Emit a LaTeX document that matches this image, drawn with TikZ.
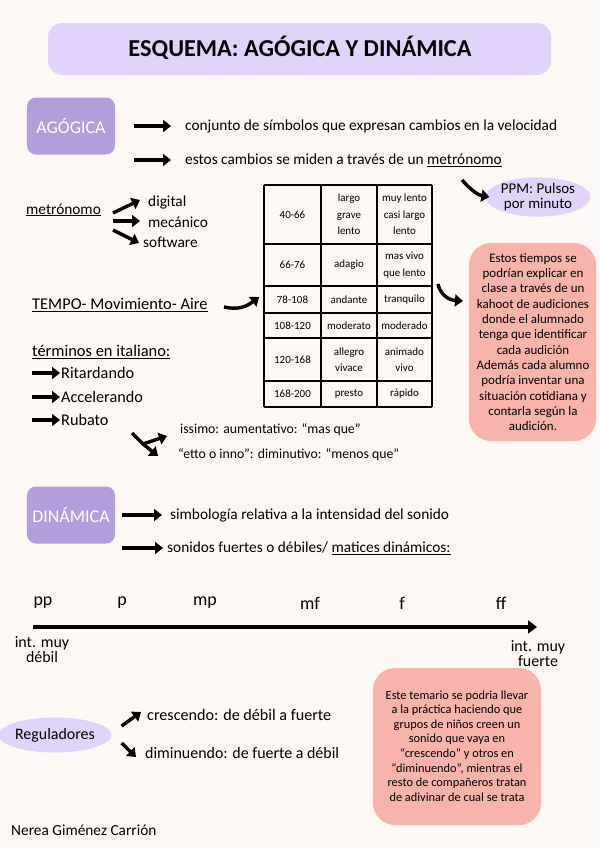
\documentclass[tikz,border=0pt]{standalone}
\usepackage{fontspec}
\setmainfont{Carlito}
\usetikzlibrary{arrows.meta,shapes.geometric}
\definecolor{paper}{HTML}{FDF8F4}
\definecolor{lilac}{HTML}{E2D3FA}
\definecolor{violet}{HTML}{B39DDB}
\definecolor{salmon}{HTML}{F8B4AB}
\begin{document}
\begin{tikzpicture}[x=1bp,y=-1bp,
  txt/.style={anchor=west,inner sep=0pt,font=\fontsize{15.4}{17}\selectfont},
  bigarrow/.style={line width=3.4bp,-{Triangle[length=8bp,width=12bp]}},
  headbox/.style={fill=violet,rounded corners=9bp,minimum width=88bp,minimum height=57bp,
    text=white,font=\fontsize{18}{20}\selectfont},
  bubble/.style={ellipse,fill=lilac,inner sep=0pt,align=center},
  cell/.style={font=\fontsize{11}{16.5}\selectfont,align=center,inner sep=0pt},
  notetxt/.style={align=center,inner sep=0pt}]
\fill[paper] (0,0) rectangle (600,848);
\useasboundingbox (0,0) rectangle (600,848);
% title
\fill[lilac,rounded corners=14bp] (48,23) rectangle (551,75);
\node (title) at (300,48) {\fontsize{24.4}{28}\selectfont\bfseries ESQUEMA: AGÓGICA Y DINÁMICA};
% agogica
\node[headbox] (agogica) at (71,126) {AGÓGICA};
\node[txt] (agodef) at (185,126) {conjunto de símbolos que expresan cambios en la velocidad};
\node[txt] (agomet) at (185,160) {estos cambios se miden a través de un \underline{metrónomo}};
\coordinate (ag1) at (134,126);
\coordinate (ag2) at (134,160);
\draw[bigarrow] (ag1) -- ([xshift=-14bp]agodef.west);
\draw[bigarrow] (ag2) -- ([xshift=-14bp]agomet.west);
% ppm
\node[bubble,minimum width=100bp,minimum height=33bp,font=\fontsize{15}{15}\selectfont] (ppm) at (538,197) {PPM: Pulsos\\por minuto};
\coordinate (ppmtail) at (462,180);
\draw[bigarrow] (ppmtail) .. controls (472,191) and (478,195) .. ([xshift=4bp]ppm.west);
% metronomo
\node[txt] (metro) at (26,210) {\underline{metrónomo}};
\node[txt] (digital) at (148,202) {digital};
\node[txt] (mecanico) at (148,222) {mecánico};
\node[txt] (software) at (143,242) {software};
\coordinate (m1) at (113,213);
\coordinate (m2) at (113,221);
\coordinate (m3) at (113,230);
\draw[bigarrow] (m1) -- (140,200);
\draw[bigarrow] (m2) -- (140,221);
\draw[bigarrow] (m3) -- (139,243);
% table
\foreach \x in {264,321,377,432}
  \draw[line width=1.3bp] (\x,185) -- (\x,407);
\foreach \y in {185,244,286,313,338,381,407}
  \draw[line width=1.3bp] (264,\y) -- (432,\y);
\foreach \y/\a/\b/\c [count=\n] in {
  214.5/40-66/{largo\\grave\\lento}/{muy lento\\casi largo\\lento},
  265/66-76/adagio/{mas vivo\\que lento},
  299.5/78-108/andante/tranquilo,
  325.5/108-120/moderato/moderado,
  359.5/120-168/{allegro\\vivace}/{animado\\vivo},
  394/168-200/presto/rápido}{
  \node[cell] (bpm\n) at (292.5,\y) {\a};
  \node[cell] (ita\n) at (349,\y) {\b};
  \node[cell] (esp\n) at (404.5,\y) {\c};
}
% tempo
\node[txt,font=\fontsize{16.5}{18}\selectfont] (tempo) at (32,305) {\underline{TEMPO- Movimiento- Aire}};
\coordinate (tp) at (224,307);
\draw[bigarrow] (tp) .. controls (238,310) and (246,307) .. (259,297);
% note 1
\fill[salmon,rounded corners=22bp] (469,243) rectangle (596,441);
\node[notetxt,font=\fontsize{13}{15.4}\selectfont] (note1) at (533,342) {Estos tiempos se\\podrían explicar en\\clase a través de un\\kahoot de audiciones\\donde el alumnado\\tenga que identificar\\cada audición\\Además cada alumno\\podría inventar una\\situación cotidiana y\\contarla según la\\audición.};
\coordinate (tb) at (438,284);
\draw[bigarrow] (tb) .. controls (440,294) and (448,300) .. (463,301);
% italiano
\node[txt,font=\fontsize{16.5}{18}\selectfont] (terminos) at (32,352) {\underline{términos en italiano:}};
\node[txt,font=\fontsize{16.3}{18}\selectfont] (rit) at (61,373) {Ritardando};
\node[txt,font=\fontsize{16.3}{18}\selectfont] (acc) at (61,397) {Accelerando};
\node[txt,font=\fontsize{16.3}{18}\selectfont] (rub) at (61,420) {Rubato};
\foreach \t in {rit,acc,rub}
  \draw[bigarrow] ([xshift=-29bp]\t.west) -- ([xshift=-1bp]\t.west);
\node[txt,font=\fontsize{13.8}{15}\selectfont] (issimo) at (180,430) {issimo: aumentativo: “mas que”};
\node[txt,font=\fontsize{13.8}{15}\selectfont] (etto) at (178,455) {“etto o inno”: diminutivo: “menos que”};
\coordinate (fork) at (132,433);
\coordinate (split) at (143,444);
\draw[bigarrow] (fork) -- (split) -- ([xshift=-13bp,yshift=-6bp]issimo.west);
\draw[bigarrow] (split) -- ([xshift=-20bp,yshift=-1bp]etto.west);
% dinamica
\node[headbox] (dinamica) at (71,515) {DINÁMICA};
\node[txt] (dindef) at (170,515) {simbología relativa a la intensidad del sonido};
\node[txt] (dinmat) at (167,548) {sonidos fuertes o débiles/ \underline{matices dinámicos:}};
\coordinate (d1) at (122,515);
\coordinate (d2) at (122,548);
\draw[bigarrow] (d1) -- ([xshift=-8bp]dindef.west);
\draw[bigarrow] (d2) -- ([xshift=-4bp]dinmat.west);
% axis
\coordinate (axstart) at (33,627);
\coordinate (axend) at (537,627);
\draw[line width=4bp,-{Triangle[length=9bp,width=13bp]}] (axstart) -- (axend);
\foreach \m/\x in {pp/43,p/122,mp/205,mf/310,f/402,ff/501}
  \node[font=\fontsize{18}{18}\selectfont,inner sep=0pt] (dyn\m) at (\x,603) {\m};
\node[align=center,inner sep=0pt,font=\fontsize{16}{15}\selectfont] (weak) at (42,650) {int. muy\\débil};
\node[align=center,inner sep=0pt,font=\fontsize{16}{15}\selectfont] (strong) at (538,654) {int. muy\\fuerte};
% note 2
\fill[salmon,rounded corners=22bp] (373,668) rectangle (541,825);
\node[notetxt,font=\fontsize{12.4}{14.6}\selectfont] (note2) at (457,746) {Este temario se podria llevar\\a la práctica haciendo que\\grupos de niños creen un\\sonido que vaya en\\“crescendo” y otros en\\“diminuendo”, mientras el\\resto de compañeros tratan\\de adivinar de cual se trata};
% reguladores
\node[bubble,minimum width=97bp,minimum height=35bp,font=\fontsize{16}{17}\selectfont] (regul) at (55,735) {Reguladores};
\node[txt,font=\fontsize{16.2}{18}\selectfont] (cresc) at (147,715) {crescendo: de débil a fuerte};
\node[txt,font=\fontsize{16}{18}\selectfont] (dimin) at (145,753) {diminuendo: de fuerte a débil};
\draw[bigarrow] ([xshift=10bp,yshift=9bp]regul.east) -- ([xshift=-6bp,yshift=3bp]cresc.west);
\draw[bigarrow] ([xshift=10bp,yshift=-8bp]regul.east) -- ([xshift=-9bp,yshift=-4bp]dimin.west);
% author
\node[txt] (author) at (11,830) {Nerea Giménez Carrión};
\end{tikzpicture}
\end{document}
